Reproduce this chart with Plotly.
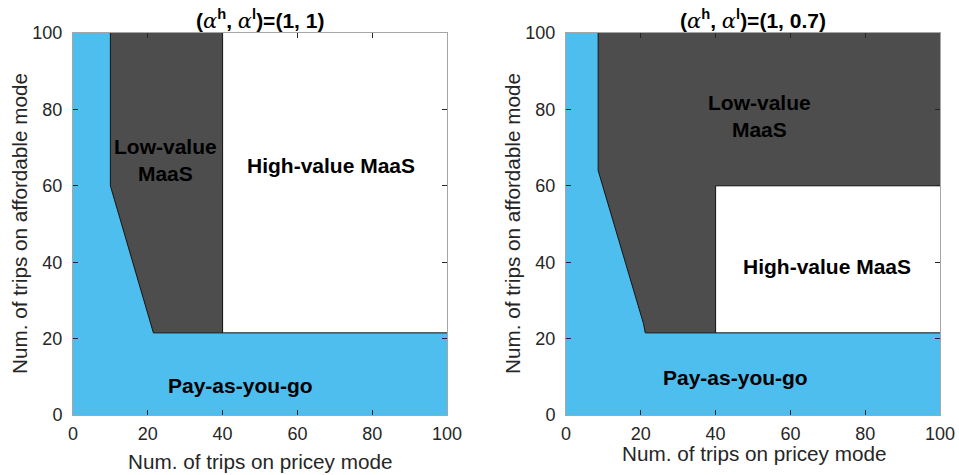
import plotly.graph_objects as go

# ---- data: region polygons (x = trips on pricey mode, y = trips on affordable mode)
# Left panel (alpha^h, alpha^l) = (1, 1)
payg_x_L = [0, 100, 100, 21.5, 10, 10, 0]
payg_y_L = [0, 0, 21.5, 21.5, 60, 100, 100]
low_x_L = [10, 10, 21.5, 40, 40]
low_y_L = [100, 60, 21.5, 21.5, 100]
high_x_L = [40, 100, 100, 40]
high_y_L = [21.5, 21.5, 100, 100]
# boundaries
b1_x_L = [10, 10, 21.5, 100]
b1_y_L = [100, 60, 21.5, 21.5]
b2_x_L = [40, 40]
b2_y_L = [21.5, 100]

# Right panel (alpha^h, alpha^l) = (1, 0.7)
payg_x_R = [0, 100, 100, 21.2, 20.7, 8.6, 8.6, 0]
payg_y_R = [0, 0, 21.5, 21.5, 24, 64, 100, 100]
low_x_R = [8.6, 8.6, 20.7, 21.2, 40, 40, 100, 100]
low_y_R = [100, 64, 24, 21.5, 21.5, 60, 60, 100]
high_x_R = [40, 100, 100, 40]
high_y_R = [21.5, 21.5, 60, 60]
b1_x_R = [8.6, 8.6, 20.7, 21.2, 100]
b1_y_R = [100, 64, 24, 21.5, 21.5]
b2_x_R = [40, 40, 100]
b2_y_R = [21.5, 60, 60]

tick_vals = [0, 20, 40, 60, 80, 100]
titles = ["(1, 1)", "(1, 0.7)"]
labels_L = [("Low-value<br>MaaS", 24.6, 66.8), ("High-value MaaS", 69, 65.4), ("Pay-as-you-go", 44.7, 7.7)]
labels_R = [("Low-value<br>MaaS", 51.7, 78.4), ("High-value MaaS", 69.7, 38.8), ("Pay-as-you-go", 45.2, 9.8)]

BLUE = "#4DBEEE"
DARK = "#4D4D4D"
FONT = "Liberation Sans, Arial, sans-serif"

W, H = 959, 475
dom_L = [73 / W, 447 / W]
dom_R = [566 / W, 940 / W]
dom_y = [(H - 415) / H, (H - 33) / H]

fig = go.Figure()

def add_panel(xa, ya, px, py, lx, ly, hx, hy, b1x, b1y, b2x, b2y):
    fig.add_trace(go.Scatter(x=hx, y=hy, fill="toself", fillcolor="white", mode="lines",
                             line=dict(width=0), xaxis=xa, yaxis=ya, showlegend=False, hoverinfo="skip"))
    fig.add_trace(go.Scatter(x=px, y=py, fill="toself", fillcolor=BLUE, mode="lines",
                             line=dict(width=0), xaxis=xa, yaxis=ya, showlegend=False, hoverinfo="skip"))
    fig.add_trace(go.Scatter(x=lx, y=ly, fill="toself", fillcolor=DARK, mode="lines",
                             line=dict(width=0), xaxis=xa, yaxis=ya, showlegend=False, hoverinfo="skip"))
    fig.add_trace(go.Scatter(x=b1x, y=b1y, mode="lines", line=dict(color="#111111", width=1),
                             xaxis=xa, yaxis=ya, showlegend=False, hoverinfo="skip"))
    fig.add_trace(go.Scatter(x=b2x, y=b2y, mode="lines", line=dict(color="#111111", width=1),
                             xaxis=xa, yaxis=ya, showlegend=False, hoverinfo="skip"))

add_panel("x", "y", payg_x_L, payg_y_L, low_x_L, low_y_L, high_x_L, high_y_L, b1_x_L, b1_y_L, b2_x_L, b2_y_L)
add_panel("x2", "y2", payg_x_R, payg_y_R, low_x_R, low_y_R, high_x_R, high_y_R, b1_x_R, b1_y_R, b2_x_R, b2_y_R)

axis_common = dict(range=[0, 100], tickvals=tick_vals, ticks="inside", ticklen=5, tickwidth=1,
                   tickcolor="#262626", showline=True, linecolor="#a6a6a6", linewidth=1,
                   mirror="allticks", showgrid=False, zeroline=False, layer="above traces",
                   automargin=False,
                   tickfont=dict(family=FONT, size=18, color="#262626"), fixedrange=True)

fig.update_layout(
    width=W, height=H, margin=dict(l=0, r=0, t=0, b=0, pad=0, autoexpand=False),
    paper_bgcolor="white", plot_bgcolor="white",
    xaxis=dict(domain=dom_L, anchor="y", ticklabelstandoff=2, **axis_common),
    yaxis=dict(domain=dom_y, anchor="x", ticklabelstandoff=6, **axis_common),
    xaxis2=dict(domain=dom_R, anchor="y2", ticklabelstandoff=2, **axis_common),
    yaxis2=dict(domain=dom_y, anchor="x2", ticklabelstandoff=6, **axis_common),
)

ann = []
alpha = '<span style="font-family:DejaVu Serif;font-style:italic;font-weight:normal">α</span>'
for t, (d0, d1) in zip(titles, [dom_L, dom_R]):
    ann.append(dict(text=f"<b>(</b>{alpha}<b><sup>h</sup>, </b>{alpha}<b><sup>l</sup>)={t}</b>",
                    x=(d0 + d1) / 2, y=dom_y[1], xref="paper", yref="paper",
                    xanchor="center", yanchor="bottom", yshift=-2, showarrow=False,
                    font=dict(family=FONT, size=21, color="black")))

for labels, xr, yr in [(labels_L, "x", "y"), (labels_R, "x2", "y2")]:
    for txt, lx, ly in labels:
        ann.append(dict(text=f"<b>{txt}</b>", x=lx, y=ly, xref=xr, yref=yr, showarrow=False,
                        font=dict(family=FONT, size=21, color="black")))

# axis titles
ann.append(dict(text="Num. of trips on pricey mode", x=260 / W, y=1 - 461 / H, xref="paper", yref="paper",
                showarrow=False, xanchor="center", yanchor="middle",
                font=dict(family=FONT, size=20.7, color="#262626")))
ann.append(dict(text="Num. of trips on pricey mode", x=754 / W, y=1 - 453 / H, xref="paper", yref="paper",
                showarrow=False, xanchor="center", yanchor="middle",
                font=dict(family=FONT, size=20.7, color="#262626")))
for xc in [19, 512]:
    ann.append(dict(text="Num. of trips on affordable mode", x=xc / W, y=1 - 224 / H, xref="paper", yref="paper",
                    showarrow=False, xanchor="center", yanchor="middle", textangle=-90,
                    font=dict(family=FONT, size=20.7, color="#262626")))

fig.update_layout(annotations=ann)
fig.write_html("out.html")
